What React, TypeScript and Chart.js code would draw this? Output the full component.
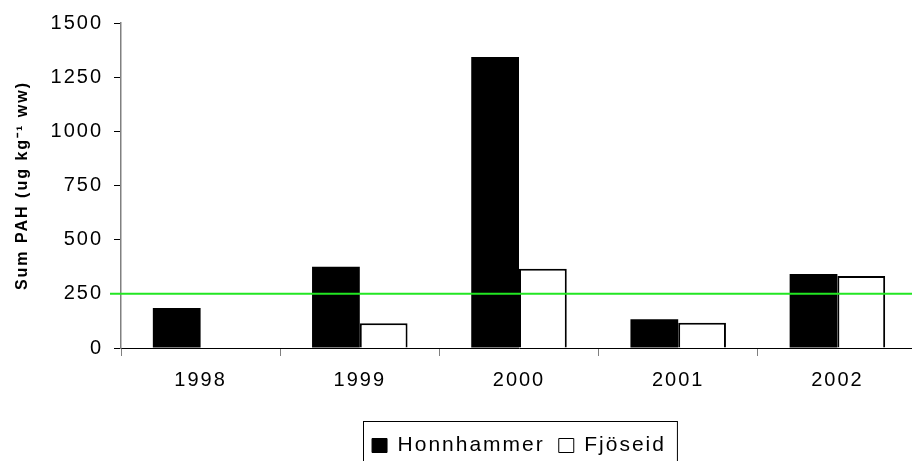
import React, { useEffect, useRef } from 'react';
import { Chart, registerables } from 'chart.js';

Chart.register(...registerables);

// ---- data ----
const years = ['1998', '1999', '2000', '2001', '2002'];
const seriesNames = ['Honnhammer', 'Fjöseid'];
const honnhammer = [185, 375, 1343, 133, 341];
const fjoseid: (number | null)[] = [null, 114, 366, 116, 332];
const yMin = 0;
const yMax = 1500;
const yStep = 250;
const limitValue = 250;
const yTitle = 'Sum PAH (ug kg⁻¹ ww)';

const FONT = "'Liberation Sans', Arial, sans-serif";

const spacingPlugin = {
  id: 'letterSpacing',
  beforeUpdate(chart: any) { chart.ctx.letterSpacing = '2px'; },
  beforeLayout(chart: any) { chart.ctx.letterSpacing = '2px'; },
  beforeDraw(chart: any) { chart.ctx.letterSpacing = '2px'; },
};

const limitPlugin = {
  id: 'limitLine',
  afterDatasetsDraw(chart: any) {
    const { ctx, chartArea, scales } = chart;
    const y = scales.y.getPixelForValue(limitValue);
    ctx.save();
    ctx.strokeStyle = '#22e622';
    ctx.lineWidth = 2;
    ctx.beginPath();
    ctx.moveTo(chartArea.left - 11, y);
    ctx.lineTo(chartArea.right, y);
    ctx.stroke();
    ctx.restore();
  },
};

const legendBoxPlugin = {
  id: 'legendBox',
  afterDraw(chart: any) {
    const lg = chart.legend;
    if (!lg || !lg.legendHitBoxes || !lg.legendHitBoxes.length) return;
    const hb = lg.legendHitBoxes;
    const first = hb[0];
    const last = hb[hb.length - 1];
    const left = first.left - 9;
    const right = last.left + last.width + 11;
    const top = first.top + first.height / 2 - 25;
    const { ctx } = chart;
    ctx.save();
    ctx.strokeStyle = '#000';
    ctx.lineWidth = 1;
    ctx.strokeRect(Math.round(left) + 0.5, Math.round(top) + 0.5, right - left, chart.height + 20 - top);
    ctx.restore();
  },
};

export default function App() {
  const ref = useRef<HTMLCanvasElement>(null);
  useEffect(() => {
    if (!ref.current) return;
    const origGen = (Chart.defaults as any).plugins.legend.labels.generateLabels;
    const chart = new Chart(ref.current, {
      type: 'bar',
      data: {
        labels: years,
        datasets: [
          {
            label: seriesNames[0],
            data: honnhammer,
            backgroundColor: '#000000',
            borderColor: '#000000',
            borderWidth: 0,
          },
          {
            label: seriesNames[1],
            data: fjoseid,
            backgroundColor: '#ffffff',
            borderColor: '#000000',
            borderWidth: 2,
            borderSkipped: 'start',
          },
        ],
      },
      options: {
        animation: false,
        responsive: false,
        devicePixelRatio: 1,
        layout: { padding: { left: 0, top: 23, right: 3, bottom: -5 } },
        datasets: { bar: { barPercentage: 1, categoryPercentage: 0.6 } },
        scales: {
          x: {
            offset: true,
            grid: {
              display: true,
              drawOnChartArea: false,
              drawTicks: true,
              tickLength: 8,
              offset: true,
              color: '#808080',
            },
            border: { display: true, color: '#000000', width: 1 },
            ticks: {
              color: '#000000',
              font: { family: FONT, size: 20 },
              padding: 12,
              maxRotation: 0,
            },
            afterFit(scale: any) { scale.height = 73; },
          },
          y: {
            min: yMin,
            max: yMax,
            ticks: {
              stepSize: yStep,
              color: '#000000',
              font: { family: FONT, size: 20 },
              padding: 11,
              callback: (v: any) => String(v),
            },
            grid: {
              display: true,
              drawOnChartArea: false,
              drawTicks: true,
              tickLength: 7,
              color: '#000000',
            },
            border: { display: true, color: '#808080', width: 1.5 },
            title: {
              display: true,
              text: yTitle,
              color: '#000000',
              font: { family: FONT, size: 16, weight: 'bold' },
              padding: { top: 13, bottom: 0 },
            },
            afterFit(scale: any) { scale.width = 121; },
          },
        },
        plugins: {
          tooltip: { enabled: false },
          legend: {
            display: true,
            position: 'bottom',
            fullSize: false,
            labels: {
              color: '#000000',
              font: { family: FONT, size: 21 },
              boxWidth: 15,
              boxHeight: 14,
              padding: 14,
              generateLabels: (c: any) =>
                origGen(c).map((l: any) => ({ ...l, lineWidth: 1, strokeStyle: '#000000' })),
            },
          },
        },
      },
      plugins: [spacingPlugin, limitPlugin, legendBoxPlugin],
    } as any);
    return () => chart.destroy();
  }, []);
  return (
    <div style={{ position: 'fixed', left: 0, top: 0, width: 920, height: 461, overflow: 'hidden', background: '#fff' }}>
      <canvas ref={ref} width={920} height={461} style={{ display: 'block' }} />
    </div>
  );
}
